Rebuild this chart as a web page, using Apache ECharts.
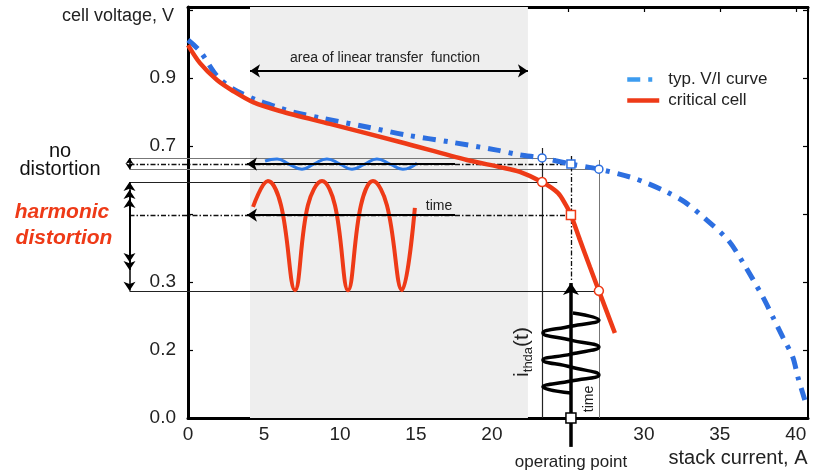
<!DOCTYPE html>
<html>
<head>
<meta charset="utf-8">
<script src="https://cdn.jsdelivr.net/npm/echarts@6/dist/echarts.min.js"></script>
<style>
  html, body { margin: 0; padding: 0; background: #fff; }
  #chart { width: 814px; height: 472px; }
</style>
</head>
<body>
<div id="chart"></div>
<script>
// axis ticks (y labels are the ones printed on the figure)
const xTickLabels = ['0', '5', '10', '15', '20', '', '30', '35', '40'];
const yTickLabels = ['0.0', '0.2', '0.3', '', '0.7', '0.9'];

// typical V/I curve and critical cell
const typicalCurve = [[0, 1.112], [0.79, 1.079], [1.91, 1.006], [2.96, 0.968], [4.54, 0.935], [5.86, 0.915],
  [6.91, 0.9], [8.82, 0.882], [11.78, 0.856], [14.41, 0.832], [17.24, 0.812], [20.33, 0.788], [21.84, 0.774],
  [23.3, 0.765], [25.2, 0.747], [27.04, 0.732], [29.08, 0.709], [30.2, 0.691], [31.5, 0.665], [32.7, 0.635],
  [34.14, 0.582], [35.53, 0.524], [36.5, 0.459], [37.83, 0.356], [38.49, 0.297], [39.14, 0.238], [39.8, 0.179],
  [40.13, 0.121], [40.59, 0.053]];
const criticalCell = [[0, 1.097], [0.79, 1.044], [1.91, 0.994], [2.96, 0.962], [4.28, 0.929], [6.05, 0.903],
  [9.34, 0.865], [13.95, 0.812], [18.36, 0.759], [20.53, 0.738], [21.84, 0.724], [23.3, 0.694], [24.34, 0.662],
  [24.87, 0.626], [25.2, 0.597], [25.79, 0.524], [26.45, 0.444], [27.04, 0.374], [28.09, 0.25]];

// voltage responses and current excitation
const blueWave = [[5.07, 0.756], [5.86, 0.762], [6.64, 0.747], [7.5, 0.732], [8.29, 0.747], [9.14, 0.762],
  [10.0, 0.747], [10.79, 0.732], [11.64, 0.747], [12.43, 0.762], [13.29, 0.747], [14.14, 0.732], [15.07, 0.75]];
const redWave = [[4.28, 0.621], [5.26, 0.697], [6.12, 0.626], [7.04, 0.376], [7.89, 0.626], [8.82, 0.697],
  [9.67, 0.626], [10.53, 0.376], [11.38, 0.626], [12.17, 0.697], [13.09, 0.626], [14.08, 0.376], [14.93, 0.618]];
const currentWave = [[25.2, 0.0735], [23.36, 0.0912], [25.2, 0.1088], [27.04, 0.1265], [25.2, 0.15],
  [23.36, 0.1706], [25.2, 0.188], [27.04, 0.2088], [25.2, 0.229], [23.36, 0.25], [25.2, 0.27], [27.04, 0.288],
  [25.33, 0.309]];

const typicalMarks = [[23.3, 0.765], [25.2, 0.747], [27.04, 0.732]];
const criticalMarks = [[23.3, 0.694], [25.2, 0.597], [27.04, 0.374]];
const operatingPoint = [[25.2, 0]];
const linearRange = [4.08, 22.37];

// helper lines
const blackLines = [[[-3.85, 0.694], [24.3, 0.694]], [[-3.85, 0.374], [27.04, 0.374]], [[23.3, 0.794], [23.3, 0]]];
const greyLines = [[[-3.85, 0.765], [24.2, 0.765]], [[-3.85, 0.732], [27.04, 0.732]], [[27.04, 0.759], [27.04, 0]]];
const dashDotLines = [[[-3.85, 0.747], [25.2, 0.747]], [[-3.85, 0.597], [25.2, 0.597]], [[25.2, 0.771], [25.2, 0.4]]];
const timeArrows = [[[17.57, 0.747], [3.88, 0.747]], [[17.57, 0.597], [3.88, 0.597]]];
const currentArrow = [[[25.2, -0.085], [25.2, 0.397]]];
const rangeArrow = [[[4.08, 1.021], [22.37, 1.021]]];
const noDistArrows = [[[-3.85, 0.747], [-3.85, 0.765]], [[-3.85, 0.747], [-3.85, 0.732]]];
const harmonicArrows = [[[-3.85, 0.597], [-3.85, 0.694]], [[-3.85, 0.597], [-3.85, 0.671]], [[-3.85, 0.597], [-3.85, 0.644]],
  [[-3.85, 0.597], [-3.85, 0.459]], [[-3.85, 0.597], [-3.85, 0.435]], [[-3.85, 0.597], [-3.85, 0.374]]];

const FONT = 'Liberation Sans, Arial, Helvetica, sans-serif';
const RED = '#ee3a17';
const BLUE = '#2d6fe0';

const chart = echarts.init(document.getElementById('chart'));

const toLines = (arr) => arr.map((c) => ({ coords: c }));
const linesSeries = (arr, style, extra) => Object.assign({
  type: 'lines',
  coordinateSystem: 'cartesian2d',
  clip: false,
  silent: true,
  symbol: 'none',
  lineStyle: Object.assign({ opacity: 1, curveness: 0 }, style),
  data: toLines(arr),
  z: 3,
}, extra || {});

const yLabel = (v) => {
  const i = Math.round(v / 0.2);
  return Math.abs(v - i * 0.2) < 1e-6 && yTickLabels[i] !== undefined ? yTickLabels[i] : '';
};
const xLabel = (v) => {
  const i = Math.round(v / 5);
  return Math.abs(v - i * 5) < 1e-6 && xTickLabels[i] !== undefined ? xTickLabels[i] : '';
};

const axisLine = (w) => ({ onZero: false, lineStyle: { color: '#000', width: w } });

const option = {
  animation: false,
  grid: { left: 188, right: 6, top: 7, bottom: 54, containLabel: false, outerBoundsMode: 'none' },
  legend: {
    orient: 'vertical',
    left: 620,
    top: 66,
    itemWidth: 32,
    itemHeight: 14,
    itemGap: 4,
    itemStyle: { opacity: 0 },
    textStyle: { fontSize: 17, color: '#222', fontFamily: FONT, padding: [0, 0, 0, 4] },
    data: [
      { name: 'typ. V/I curve', lineStyle: { color: '#3d9cf0', width: 4.5 } },
      { name: 'critical cell', lineStyle: { width: 4.5 } },
    ],
  },
  xAxis: [
    {
      type: 'value', position: 'bottom', min: 0, max: 40.8, interval: 5,
      axisLine: axisLine(3), axisTick: { show: false }, splitLine: { show: false },
      axisLabel: { formatter: xLabel, fontSize: 19, color: '#222', fontFamily: FONT, margin: 7 },
    },
    {
      type: 'value', position: 'top', min: 0, max: 40.8, interval: 5,
      axisLine: axisLine(3), axisTick: { inside: true, length: 5, lineStyle: { color: '#000', width: 1.2 } },
      splitLine: { show: false }, axisLabel: { show: false },
    },
  ],
  yAxis: [
    {
      type: 'value', position: 'left', min: 0, max: 1.209, interval: 0.2,
      axisLine: axisLine(3), axisTick: { inside: true, length: 5, lineStyle: { color: '#000', width: 1.2 } },
      splitLine: { show: false },
      axisLabel: { formatter: yLabel, fontSize: 19, color: '#222', fontFamily: FONT, margin: 12 },
    },
    {
      type: 'value', position: 'right', min: 0, max: 1.209, interval: 0.2,
      axisLine: axisLine(2), axisTick: { inside: true, length: 5, lineStyle: { color: '#000', width: 1.2 } },
      splitLine: { show: false }, axisLabel: { show: false },
    },
  ],
  series: [
    {
      name: 'shade', type: 'line', data: [], z: 1, silent: true,
      markArea: {
        silent: true,
        itemStyle: { color: '#eeeeee' },
        data: [[{ xAxis: linearRange[0] }, { xAxis: linearRange[1] }]],
      },
    },
    linesSeries(greyLines, { color: '#777', width: 1 }),
    linesSeries(blackLines, { color: '#222', width: 1.2 }),
    linesSeries(dashDotLines, { color: '#111', width: 1.3, type: [5, 2, 1.5, 2] }),
    {
      name: 'typ. V/I curve', type: 'line', data: typicalCurve, smooth: 0.3, symbol: 'none',
      lineStyle: { color: BLUE, width: 5, type: [13, 8, 4, 8] }, itemStyle: { color: BLUE }, z: 4,
    },
    {
      name: 'critical cell', type: 'line', data: criticalCell, smooth: 0.3, symbol: 'none',
      lineStyle: { color: RED, width: 4.5 }, itemStyle: { color: RED }, z: 5,
    },
    {
      name: 'no distortion', type: 'line', data: blueWave, smooth: 0.5, symbol: 'none',
      lineStyle: { color: '#2f7be6', width: 3 }, z: 5,
    },
    {
      name: 'harmonic distortion', type: 'line', data: redWave, smooth: 0.4, symbol: 'none',
      lineStyle: { color: RED, width: 4 }, z: 5,
    },
    {
      name: 'current', type: 'line', data: currentWave, smooth: 0.5, symbol: 'none',
      lineStyle: { color: '#000', width: 3.5 }, z: 5,
    },
    linesSeries(timeArrows, { color: '#000', width: 2 }, { symbol: ['none', 'arrow'], symbolSize: 10, z: 6 }),
    linesSeries(currentArrow, { color: '#000', width: 3.5 }, { symbol: ['none', 'arrow'], symbolSize: 12, z: 6 }),
    linesSeries(rangeArrow, { color: '#000', width: 1.8 }, { symbol: ['arrow', 'arrow'], symbolSize: 10, z: 6 }),
    linesSeries(noDistArrows, { color: '#000', width: 1.5 }, { symbol: ['none', 'arrow'], symbolSize: 6, z: 6 }),
    linesSeries(harmonicArrows, { color: '#000', width: 1.5 }, { symbol: ['none', 'arrow'], symbolSize: 9, z: 6 }),
    {
      type: 'scatter', silent: true, z: 7,
      data: typicalMarks.map((p, i) => ({ value: p, symbol: i === 1 ? 'rect' : 'circle' })),
      symbolSize: 8, itemStyle: { color: '#fff', borderColor: BLUE, borderWidth: 1.5, opacity: 1 },
    },
    {
      type: 'scatter', silent: true, z: 7,
      data: criticalMarks.map((p, i) => ({ value: p, symbol: i === 1 ? 'rect' : 'circle' })),
      symbolSize: 9, itemStyle: { color: '#fff', borderColor: RED, borderWidth: 1.5, opacity: 1 },
    },
    {
      type: 'scatter', silent: true, z: 8, clip: false,
      data: operatingPoint, symbol: 'rect', symbolSize: 10,
      itemStyle: { color: '#fff', borderColor: '#000', borderWidth: 1.5, opacity: 1 },
    },
  ],
  graphic: [
    { type: 'text', x: 118, y: 16, style: { text: 'cell voltage, V', fontSize: 18, fontFamily: FONT, fill: '#222', align: 'center', verticalAlign: 'middle' } },
    { type: 'text', x: 738, y: 458, style: { text: 'stack current, A', fontSize: 20, fontFamily: FONT, fill: '#222', align: 'center', verticalAlign: 'middle' } },
    { type: 'text', x: 571, y: 462, style: { text: 'operating point', fontSize: 17, fontFamily: FONT, fill: '#222', align: 'center', verticalAlign: 'middle' } },
    { type: 'text', x: 60, y: 151, style: { text: 'no', fontSize: 20, fontFamily: FONT, fill: '#111', align: 'center', verticalAlign: 'middle' } },
    { type: 'text', x: 60, y: 169, style: { text: 'distortion', fontSize: 20, fontFamily: FONT, fill: '#111', align: 'center', verticalAlign: 'middle' } },
    { type: 'text', x: 62, y: 212, style: { text: 'harmonic', fontSize: 21, fontWeight: 'bold', fontStyle: 'italic', fontFamily: FONT, fill: RED, align: 'center', verticalAlign: 'middle' } },
    { type: 'text', x: 64, y: 238, style: { text: 'distortion', fontSize: 21, fontWeight: 'bold', fontStyle: 'italic', fontFamily: FONT, fill: RED, align: 'center', verticalAlign: 'middle' } },
    { type: 'text', x: 385, y: 58, z: 10, style: { text: 'area of linear transfer  function', fontSize: 14, fontFamily: FONT, fill: '#222', align: 'center', verticalAlign: 'middle' } },
    { type: 'text', x: 439, y: 206, z: 10, style: { text: 'time', fontSize: 14, fontFamily: FONT, fill: '#222', align: 'center', verticalAlign: 'middle' } },
    { type: 'text', x: 589, y: 399, z: 10, rotation: Math.PI / 2, style: { text: 'time', fontSize: 14, fontFamily: FONT, fill: '#222', align: 'center', verticalAlign: 'middle' } },
    {
      type: 'text', x: 522, y: 352, z: 10, rotation: Math.PI / 2,
      style: {
        text: '{a|i}{b|thda}{a|(t)}', fontFamily: FONT, fill: '#222', align: 'center', verticalAlign: 'middle',
        rich: {
          a: { fontSize: 21, lineHeight: 26, fontFamily: FONT, fill: '#222' },
          b: { fontSize: 13, lineHeight: 10, verticalAlign: 'bottom', fontFamily: FONT, fill: '#222' },
        },
      },
    },
  ],
};

chart.setOption(option);
</script>
</body>
</html>
